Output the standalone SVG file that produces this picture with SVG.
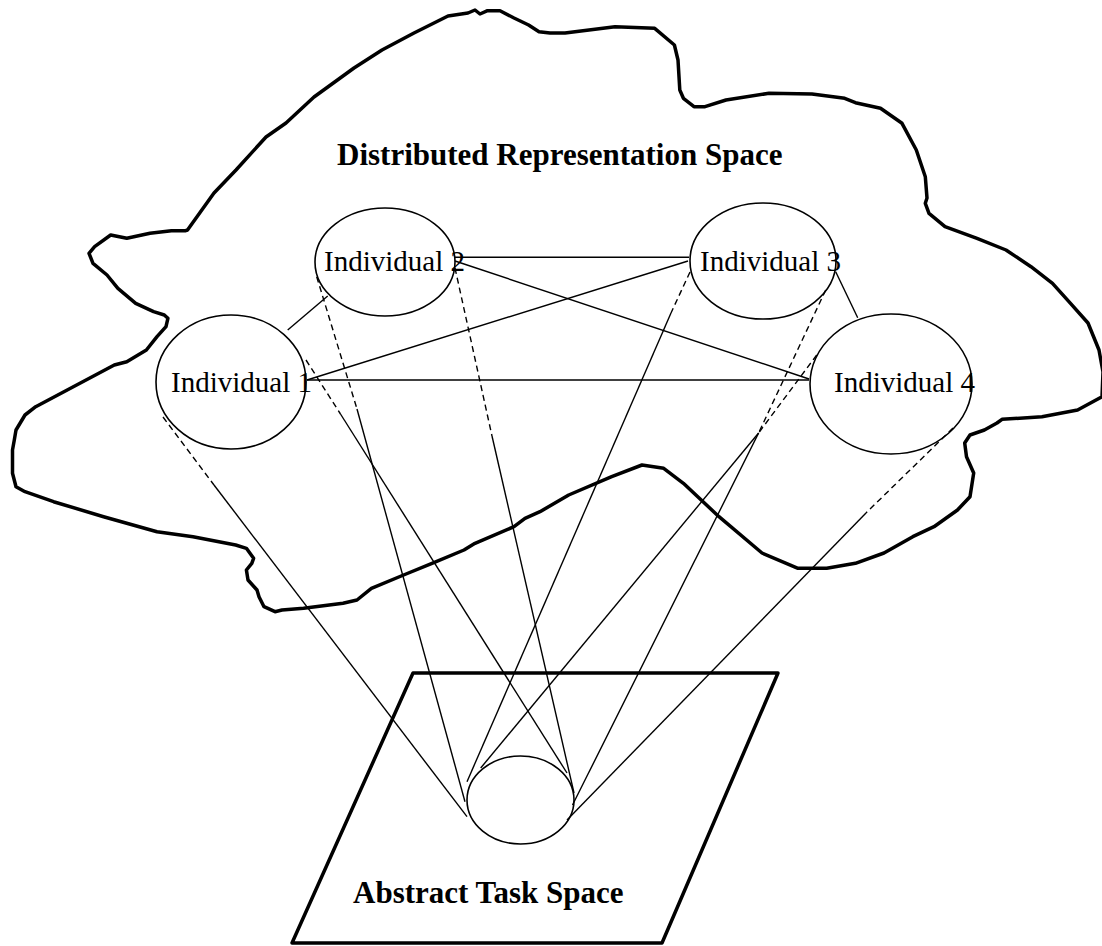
<svg xmlns="http://www.w3.org/2000/svg" width="1102" height="946" viewBox="0 0 1102 946">
  <style>
    .space { fill: none; stroke: #000; stroke-width: 3.5; stroke-linejoin: round; stroke-linecap: round; }
    .node { fill: #fff; stroke: #000; stroke-width: 1.6; }
    .lbl { font-family: "Liberation Serif", "Times New Roman", serif; font-size: 29px; fill: #000; }
    .title { font-family: "Liberation Serif", "Times New Roman", serif; font-size: 31px; font-weight: bold; fill: #000; }
    .link { fill: none; stroke: #000; stroke-width: 1.4; }
    .dash { fill: none; stroke: #000; stroke-width: 1.4; stroke-dasharray: 6 4; }
  </style>

  <rect width="1102" height="946" fill="#fff"/>

  <!-- Distributed representation space: irregular cloud outline -->
  <g id="representation-space">
    <path class="space" d="M187.5,230 L214,193 L236,170 L266,137 L286,123 L314,97 L354,68 L382,50 L414,33 L448,16 L468,13 L475,10 L480,14 L487.5,10.7 L500,10.7 L514,18 L528.6,25 L539,31.7 L550,33 L565,33 L615,26.7 L654.7,28.3 L674.4,45 L678,60 L679.8,90 L683.4,98.3 L694,106.7 L705,106.7 L726,100 L769,93.3 L812,94 L844.7,98.3 L855.4,102.7 L880.5,108.3 L902,123.3 L916.3,150 L925.3,176.7 L927,198 L925.3,203.3 L929,213.3 L945,226.7 L977,238.3 L1006,250 L1031,266.7 L1052.5,283.3 L1070.5,303.3 L1088,323 L1099,350 L1103,372 L1102,396.7 L1077.6,410 L1042,416.7 L1002,419.3 L997,423 L984.4,430 L970,435 L964.7,443 L966.5,456.7 L973.7,473 L970,496.7 L957.5,510 L934,526.7 L912.8,536.7 L884,553 L855.4,563.3 L826.7,568.3 L798,568.3 L762,553 L719,516.7 L683.4,483.3 L663.7,468.3 L642,465 L611.7,476.7 L568.7,495 L540,511.7 L525,518.3 L514,526.7 L475,543.3 L464,550 L432,563.3 L403.6,575 L371.4,588.3 L357,600 L343,603.3 L303.6,608.3 L282,610 L275,611.7 L264,606.7 L259,596.7 L257,590 L248,580 L246.4,570 L251.8,563.3 L253.6,558.3 L246.4,548.3 L235.7,545 L193,536.7 L157,531.7 L103.6,516.7 L53.6,501.7 L25,491.7 L16,486.7 L12.5,473.3 L12.5,450 L14.3,440 L16,430 L25,415 L35.7,406.7 L114.3,365 L126.8,361.7 L146.4,350 L157,336.7 L166,326.7 L167.9,318.3 L164.3,315 L153.6,311.7 L135.7,303.3 L117.9,288.3 L107,275 L93,263.3 L89,253.3 L94.6,246.7 L110.7,235 L126.8,238.3 L150,233.3 L171.4,230.7 L185.7,230.7 Z"/>
    <text class="title" x="337" y="165">Distributed Representation Space</text>
  </g>

  <!-- Abstract task space: parallelogram -->
  <g id="task-space">
    <path class="space" d="M413,673 L778,673 L662,943 L292,943 Z"/>
    <text class="title" x="353" y="903">Abstract Task Space</text>
  </g>

  <!-- Connectors -->
  <g id="connectors">
    <!-- links between individuals -->
    <line class="link" x1="455" y1="257.3" x2="689" y2="257.3"/>
    <line class="link" x1="455" y1="261" x2="809" y2="379"/>
    <line class="link" x1="307" y1="380" x2="809" y2="380"/>
    <line class="link" x1="307" y1="380" x2="688" y2="261"/>
    <line class="link" x1="287.7" y1="330" x2="327.7" y2="296"/>
    <line class="link" x1="835.7" y1="271.7" x2="857.7" y2="317.7"/>

    <!-- projections onto the task region: dashed near each individual, solid below -->
    <line class="dash" x1="163" y1="417" x2="214" y2="485"/>
    <line class="link" x1="214" y1="485" x2="467" y2="816.7"/>

    <line class="dash" x1="306" y1="360" x2="340.5" y2="414"/>
    <line class="link" x1="340.5" y1="414" x2="567" y2="773"/>

    <line class="dash" x1="316.7" y1="276.7" x2="357" y2="409"/>
    <line class="link" x1="357" y1="409" x2="465" y2="801.7"/>

    <line class="dash" x1="455" y1="268" x2="492" y2="436"/>
    <line class="link" x1="492" y1="436" x2="574" y2="793"/>

    <line class="dash" x1="690" y1="272" x2="671" y2="313"/>
    <line class="link" x1="671" y1="313" x2="467" y2="781.7"/>

    <line class="dash" x1="825.7" y1="290" x2="758.6" y2="433"/>
    <line class="link" x1="758.6" y1="433" x2="572.5" y2="805"/>

    <line class="dash" x1="816.7" y1="355" x2="758.6" y2="433"/>
    <line class="link" x1="758.6" y1="433" x2="480.7" y2="768"/>

    <line class="dash" x1="953" y1="428" x2="866" y2="513"/>
    <line class="link" x1="866" y1="513" x2="567" y2="820"/>
  </g>

  <g id="individual-1">
    <ellipse class="node" cx="231" cy="382" rx="75" ry="67" fill="none" style="fill:none"/>
    <text class="lbl" x="171" y="392">Individual 1</text>
  </g>
  <g id="individual-2">
    <ellipse class="node" cx="385" cy="262" rx="70" ry="54" style="fill:none"/>
    <text class="lbl" x="324" y="271">Individual 2</text>
  </g>
  <g id="individual-3">
    <ellipse class="node" cx="763" cy="261" rx="73" ry="58" style="fill:none"/>
    <text class="lbl" x="700" y="271">Individual 3</text>
  </g>
  <g id="individual-4">
    <ellipse class="node" cx="891" cy="384" rx="81" ry="70" style="fill:none"/>
    <text class="lbl" x="834" y="392">Individual 4</text>
  </g>
  <g id="task">
    <ellipse class="node" cx="520.5" cy="800" rx="53.5" ry="44" style="fill:none"/>
  </g>
</svg>
